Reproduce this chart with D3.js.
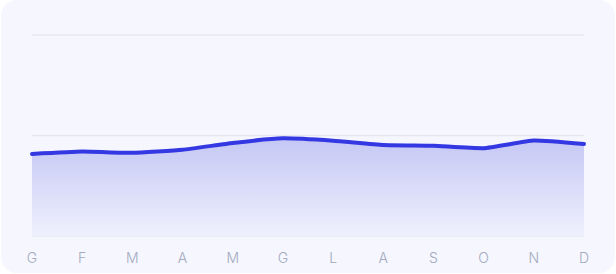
<!DOCTYPE html>
<html>
<head>
<meta charset="utf-8">
<script src="https://cdn.jsdelivr.net/npm/d3@7"></script>
<style>
  html, body { margin: 0; padding: 0; background: #ffffff; }
  svg { display: block; }
</style>
</head>
<body>
<script>
// Data
var months = ['G', 'F', 'M', 'A', 'M', 'G', 'L', 'A', 'S', 'O', 'N', 'D'];
var values = [40.8, 42.0, 41.4, 42.9, 46.3, 48.6, 47.4, 45.3, 44.9, 43.7, 47.5, 45.8];
var yTicks = [0, 50, 100];

{
  const width = 616,
        height = 274;

  const svg = d3.select('body').append('svg')
      .attr('width', width)
      .attr('height', height);

  // card
  svg.append('rect')
      .attr('x', 1)
      .attr('y', 0)
      .attr('width', width - 2)
      .attr('height', height - 1)
      .attr('rx', 16)
      .attr('fill', '#f5f6fe');

  const defs = svg.append('defs');
  const grad = defs.append('linearGradient')
      .attr('id', 'areaFill')
      .attr('x1', 0).attr('y1', 0)
      .attr('x2', 0).attr('y2', 1);
  grad.append('stop').attr('offset', '0%').attr('stop-color', '#c4c7f4');
  grad.append('stop').attr('offset', '100%').attr('stop-color', '#eff0fd');

  const x = d3.scalePoint()
      .domain(d3.range(months.length))
      .range([32, 584]);

  const y = d3.scaleLinear()
      .domain([0, 100])
      .range([236, 35]);

  // gridlines
  svg.append('g')
    .selectAll('line')
    .data(yTicks)
    .enter().append('line')
      .attr('x1', 32)
      .attr('x2', 584)
      .attr('y1', function(d) { return y(d); })
      .attr('y2', function(d) { return y(d); })
      .attr('stroke', '#e6e8f1')
      .attr('stroke-width', 1.5);

  const curve = d3.curveCardinal.tension(0.6);

  const area = d3.area()
      .x(function(d, i) { return x(i); })
      .y0(y(0))
      .y1(function(d) { return y(d); })
      .curve(curve);

  const line = d3.line()
      .x(function(d, i) { return x(i); })
      .y(function(d) { return y(d); })
      .curve(curve);

  svg.append('path')
      .datum(values)
      .attr('d', area)
      .attr('fill', 'url(#areaFill)');

  svg.append('path')
      .datum(values)
      .attr('d', line)
      .attr('fill', 'none')
      .attr('stroke', '#3438e2')
      .attr('stroke-width', 4)
      .attr('stroke-linejoin', 'round')
      .attr('stroke-linecap', 'round');

  // x labels
  svg.append('g')
    .selectAll('text')
    .data(months)
    .enter().append('text')
      .attr('x', function(d, i) { return x(i); })
      .attr('y', 262.5)
      .attr('text-anchor', 'middle')
      .attr('font-family', 'Inter, "Noto Sans", sans-serif')
      .attr('font-size', 14)
      .attr('font-weight', 300)
      .attr('fill', '#a3aabd')
      .text(function(d) { return d; });
}
</script>
</body>
</html>
